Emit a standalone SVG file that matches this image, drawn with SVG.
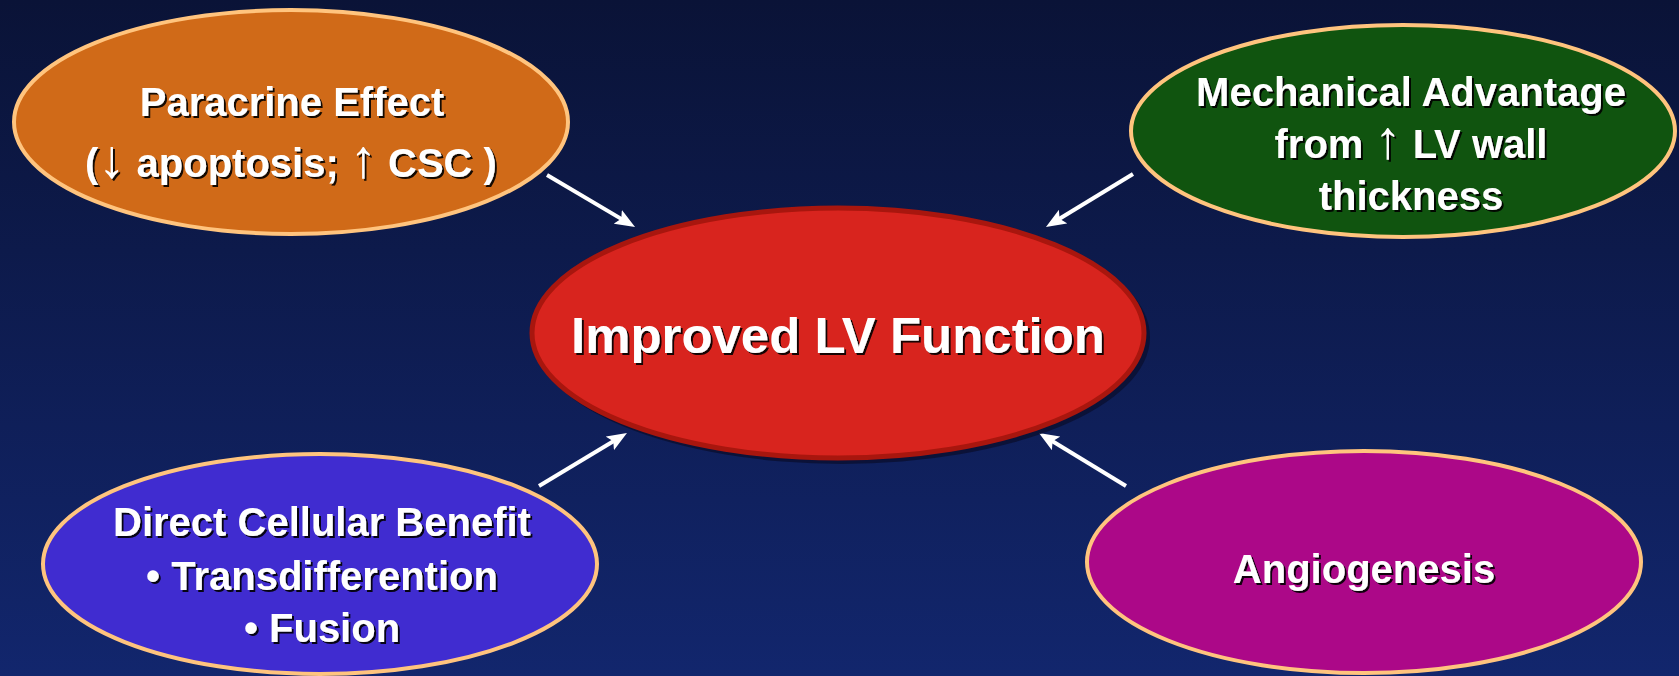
<svg xmlns="http://www.w3.org/2000/svg" width="1679" height="676" viewBox="0 0 1679 676">
<defs>
<linearGradient id="bg" x1="0" y1="0" x2="0" y2="1">
<stop offset="0" stop-color="#0a1337"/>
<stop offset="1" stop-color="#12266d"/>
</linearGradient>
<filter id="ts" x="-5%" y="-20%" width="110%" height="140%">
<feDropShadow dx="2" dy="2" stdDeviation="0.4" flood-color="#000" flood-opacity="0.9"/>
</filter>
<marker id="ah" markerUnits="userSpaceOnUse" viewBox="0 0 20 16" markerWidth="20" markerHeight="16" refX="8" refY="8" orient="auto">
<path d="M0,0 L20,8 L0,16 L4,8 z" fill="#ffffff"/>
</marker>
<style>
.lbl{font-family:"Liberation Sans",Arial,sans-serif;font-weight:bold;fill:#ffffff;text-anchor:middle;filter:url(#ts)}
.s40{font-size:40px}
.arr{font-size:54px;font-weight:normal}
.node{stroke:#ffc47e;stroke-width:4}
.conn{stroke:#ffffff;stroke-width:4;fill:none;marker-end:url(#ah)}
</style>
</defs>
<rect x="0" y="0" width="1679" height="676" fill="url(#bg)"/>

<g id="connectors">
<line class="conn" x1="547" y1="175" x2="624.7" y2="220.9"/>
<line class="conn" x1="1133" y1="174" x2="1056.2" y2="220.8"/>
<line class="conn" x1="539" y1="486" x2="616.7" y2="439.2"/>
<line class="conn" x1="1126" y1="486" x2="1049.2" y2="439.2"/>
</g>

<g id="center">
<ellipse cx="842" cy="337" rx="308" ry="127" fill="#0b1033" opacity="0.85"/>
<ellipse cx="838" cy="333" rx="306" ry="125" fill="#d8241e" stroke="#a8160e" stroke-width="5"/>
<text class="lbl" x="838" y="353" font-size="50" textLength="534" lengthAdjust="spacingAndGlyphs">Improved LV Function</text>
</g>

<g id="paracrine">
<ellipse class="node" cx="291" cy="122" rx="277" ry="112" fill="#d06a18"/>
<text class="lbl s40" x="292" y="116">Paracrine Effect</text>
<text class="lbl s40" x="291" y="177">(<tspan class="arr">↓</tspan> apoptosis; <tspan class="arr">↑</tspan> CSC )</text>
</g>

<g id="mechanical">
<ellipse class="node" cx="1403" cy="131" rx="272" ry="106" fill="#10540f"/>
<text class="lbl s40" x="1411" y="106">Mechanical Advantage</text>
<text class="lbl s40" x="1411" y="158">from <tspan class="arr">↑</tspan> LV wall</text>
<text class="lbl s40" x="1411" y="210">thickness</text>
</g>

<g id="direct">
<ellipse class="node" cx="320" cy="564" rx="277" ry="110" fill="#402cd0"/>
<text class="lbl s40" x="322" y="536">Direct Cellular Benefit</text>
<text class="lbl s40" x="322" y="590">• Transdifferention</text>
<text class="lbl s40" x="322" y="642">• Fusion</text>
</g>

<g id="angiogenesis">
<ellipse class="node" cx="1364" cy="562" rx="277" ry="111" fill="#ac0888"/>
<text class="lbl s40" x="1364" y="583">Angiogenesis</text>
</g>
</svg>
